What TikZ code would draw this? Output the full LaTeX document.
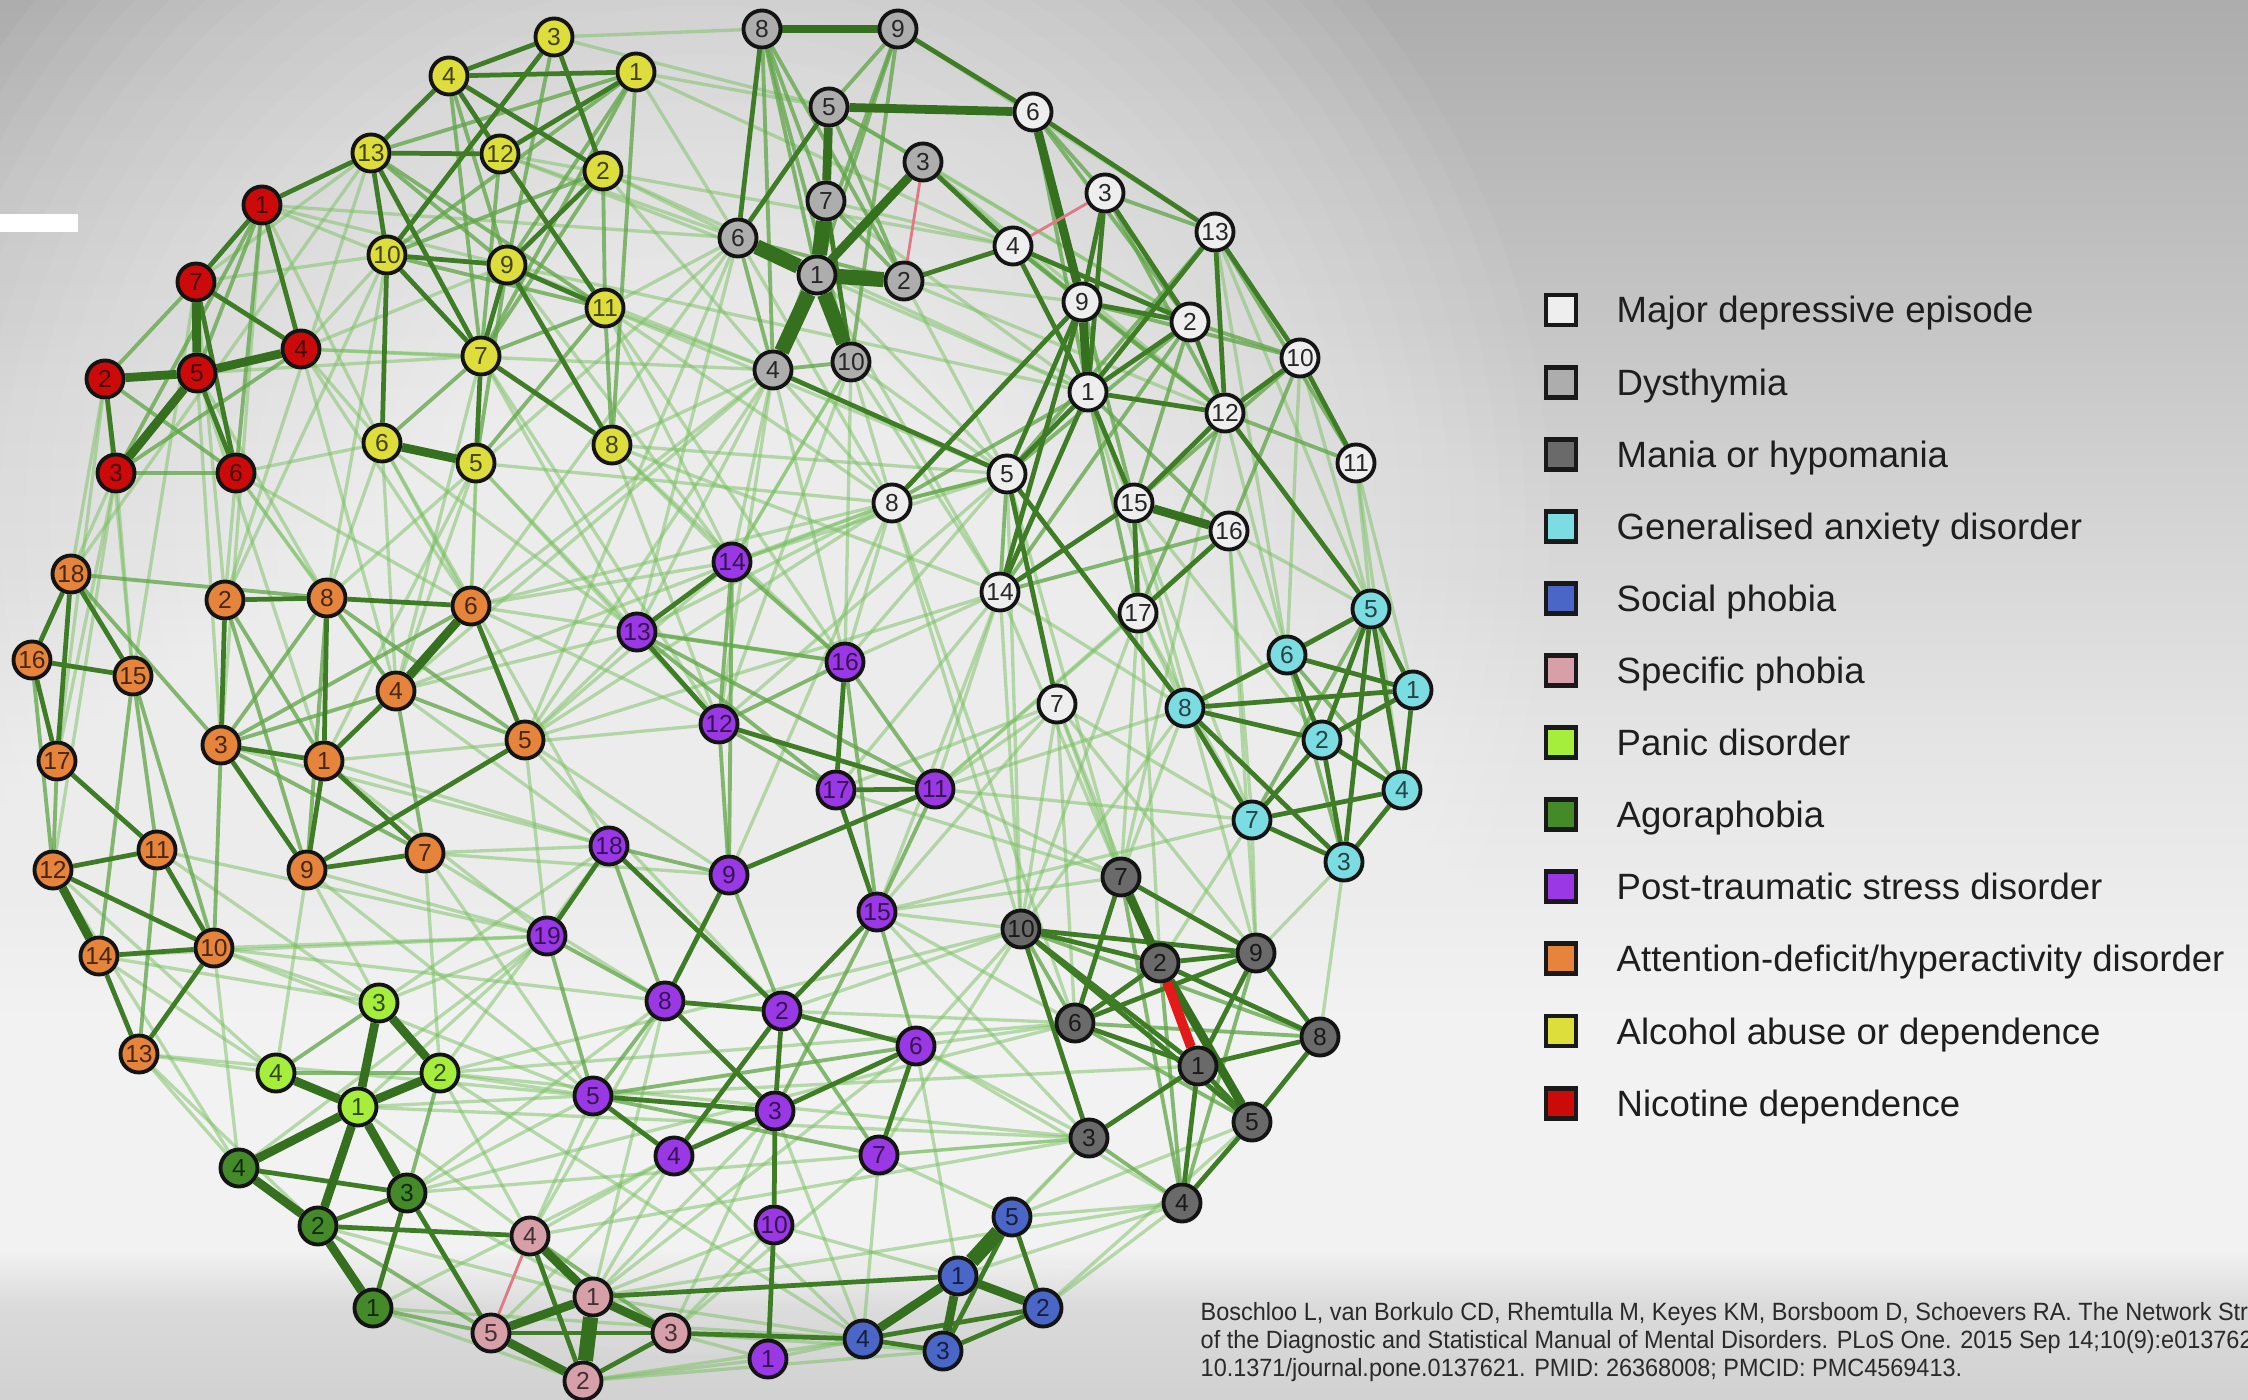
\documentclass[tikz,border=0pt]{standalone}
\usepackage{fontspec}
\setmainfont{Liberation Sans}
\newfontfamily\citefont[FakeStretch=0.94]{Liberation Sans}

% background tones
\definecolor{bg0}{HTML}{8F8F8F}
\definecolor{bg1}{HTML}{A6A6A6}
\definecolor{bg2}{HTML}{BFBFBF}
\definecolor{bg3}{HTML}{DADADA}
\definecolor{bg4}{HTML}{F2F2F2}
\definecolor{bg5}{HTML}{E4E4E4}
\definecolor{bg6}{HTML}{CFCFCF}
\definecolor{bg7}{HTML}{B9B9B9}
\definecolor{bg8}{HTML}{A3A3A3}
\definecolor{bg9}{HTML}{939393}
\definecolor{bg10}{HTML}{888888}

% disorder colours
\definecolor{cMDE}{HTML}{EEEEEE}
\definecolor{cDys}{HTML}{ADADAD}
\definecolor{cMan}{HTML}{6A6A6A}
\definecolor{cGAD}{HTML}{7BDCE1}
\definecolor{cSoc}{HTML}{4A66C6}
\definecolor{cSpe}{HTML}{D7A0A8}
\definecolor{cPan}{HTML}{A6EE3C}
\definecolor{cAgo}{HTML}{458A29}
\definecolor{cPTS}{HTML}{9B38E6}
\definecolor{cADH}{HTML}{E5843A}
\definecolor{cAlc}{HTML}{DDDD3C}
\definecolor{cNic}{HTML}{CC0A0A}

% edge colours
\definecolor{gFaint}{RGB}{120,192,95}
\definecolor{gLite}{RGB}{95,165,70}
\definecolor{gMed}{RGB}{62,125,38}
\definecolor{gStrong}{RGB}{52,112,30}
\definecolor{pNeg}{RGB}{225,120,130}
\definecolor{rNeg}{RGB}{228,25,25}
\definecolor{inkcol}{RGB}{30,30,30}
\definecolor{citecol}{RGB}{42,42,42}

\pgfdeclareverticalshading{bgshade}{100bp}{%
  color(0bp)=(bg0); color(1bp)=(bg0); color(8bp)=(bg1); color(18bp)=(bg2);
  color(28.3bp)=(bg3); color(30.4bp)=(bg4); color(38.6bp)=(bg4);
  color(48.8bp)=(bg5); color(59bp)=(bg6); color(69.3bp)=(bg7);
  color(79.5bp)=(bg8); color(89.8bp)=(bg9); color(100bp)=(bg10)}

\pgfdeclarelayer{bg}
\pgfdeclarelayer{edges}
\pgfsetlayers{bg,edges,main}

\tikzset{
  sym/.style={circle, draw=black!92, line width=1.1pt, minimum size=0.37cm,
    inner sep=0pt, font=\fontsize{7pt}{7.5pt}\selectfont},
  nMDE/.style={sym, fill=cMDE, text=black!85},
  nDys/.style={sym, fill=cDys, text=black!85},
  nMan/.style={sym, fill=cMan, text=black!90},
  nGAD/.style={sym, fill=cGAD, text=cGAD!30!black},
  nSoc/.style={sym, fill=cSoc, text=cSoc!30!black},
  nSpe/.style={sym, fill=cSpe, text=cSpe!30!black},
  nPan/.style={sym, fill=cPan, text=cPan!30!black},
  nAgo/.style={sym, fill=cAgo, text=cAgo!30!black},
  nPTS/.style={sym, fill=cPTS, text=cPTS!35!black},
  nADH/.style={sym, fill=cADH, text=cADH!30!black},
  nAlc/.style={sym, fill=cAlc, text=cAlc!30!black},
  nNic/.style={sym, fill=cNic, text=cNic!35!black},
  lnFaint/.style={draw=gFaint, line width=0.95pt, draw opacity=0.5},
  lnLite/.style={draw=gLite, line width=1.1pt, draw opacity=0.75},
  lnMed/.style={draw=gMed, line width=1.35pt},
  lnStrong/.style={draw=gStrong, line width=2.5pt},
  lnHeavy/.style={draw=gStrong, line width=4.3pt},
  lnNeg/.style={draw=pNeg, line width=0.8pt},
  lnNegBig/.style={draw=rNeg, line width=2.8pt},
  legbox/.style={draw=black!90, line width=1.4pt, minimum size=0.3cm, inner sep=0pt},
  legtext/.style={anchor=base west, inner sep=0pt, text=inkcol,
    font=\fontsize{10.4pt}{12pt}\selectfont},
  citetext/.style={anchor=base west, inner sep=0pt, text=citecol,
    font=\citefont\fontsize{7.1pt}{8pt}\selectfont}
}

\begin{document}
\begin{tikzpicture}[x=0.01cm, y=-0.01cm]
\useasboundingbox (0,0) rectangle (2248,1400);

\begin{pgfonlayer}{bg}
  \shade[shading=bgshade] (0,0) rectangle (2248,1400);
  % soft light haze behind the network, built from stacked translucent ellipses
  \foreach \r in {850,825,...,250}
    \fill[white, fill opacity=0.05] (700,520) ellipse [x radius=\r, y radius={0.98*\r}];
  \fill[white] (0,214) rectangle (78,232);
\end{pgfonlayer}

% ---------- symptom nodes ----------
% Nicotine dependence
\foreach \n/\x/\y in {1/262/205, 7/196/282, 4/301/349, 2/105/379, 5/197/373, 3/116/473, 6/236/473}
  \node[nNic] (r\n) at (\x,\y) {\n};
% Alcohol abuse or dependence
\foreach \n/\x/\y in {3/554/37, 4/449/76, 1/636/72, 13/371/153, 12/500/154, 2/603/171, 10/387/255,
  9/507/265, 11/605/308, 7/481/356, 6/382/443, 5/476/463, 8/612/445}
  \node[nAlc] (y\n) at (\x,\y) {\n};
% Dysthymia
\foreach \n/\x/\y in {8/762/29, 9/898/29, 5/829/107, 3/923/162, 7/826/201, 6/738/238, 1/817/275,
  2/904/281, 4/773/370, 10/851/362}
  \node[nDys] (d\n) at (\x,\y) {\n};
% Major depressive episode
\foreach \n/\x/\y in {6/1033/112, 3/1105/193, 4/1013/246, 13/1215/232, 9/1082/302, 2/1190/322,
  10/1300/358, 1/1088/392, 12/1225/413, 11/1356/463, 5/1007/474, 15/1134/503, 16/1229/531,
  14/1000/592, 17/1138/613, 7/1057/704, 8/892/503}
  \node[nMDE] (m\n) at (\x,\y) {\n};
% Generalised anxiety disorder
\foreach \n/\x/\y in {5/1371/609, 6/1287/655, 1/1413/690, 8/1185/708, 2/1322/740, 4/1402/790,
  7/1252/820, 3/1344/862}
  \node[nGAD] (g\n) at (\x,\y) {\n};
% Attention-deficit/hyperactivity disorder
\foreach \n/\x/\y in {18/71/574, 16/32/660, 15/133/676, 17/57/761, 2/225/600, 8/327/598, 6/471/606,
  4/396/691, 3/221/745, 1/324/761, 5/525/740, 11/157/850, 12/53/870, 9/307/870, 7/425/853,
  14/99/956, 10/214/948, 13/139/1054}
  \node[nADH] (o\n) at (\x,\y) {\n};
% Post-traumatic stress disorder
\foreach \n/\x/\y in {14/732/562, 13/637/632, 16/845/662, 12/719/724, 17/836/790, 11/935/789,
  18/609/846, 9/729/875, 15/877/912, 19/547/936, 8/665/1001, 2/782/1011, 6/916/1046, 5/593/1096,
  3/775/1111, 4/674/1156, 7/879/1155, 10/774/1225, 1/768/1359}
  \node[nPTS] (p\n) at (\x,\y) {\n};
% Mania or hypomania
\foreach \n/\x/\y in {7/1121/877, 10/1021/929, 2/1160/963, 9/1256/953, 6/1075/1023, 8/1320/1037,
  1/1198/1066, 5/1252/1122, 3/1089/1138, 4/1182/1203}
  \node[nMan] (k\n) at (\x,\y) {\n};
% Panic disorder
\foreach \n/\x/\y in {3/379/1003, 4/276/1073, 2/440/1073, 1/358/1107}
  \node[nPan] (pd\n) at (\x,\y) {\n};
% Agoraphobia
\foreach \n/\x/\y in {4/239/1168, 3/407/1193, 2/318/1226, 1/373/1308}
  \node[nAgo] (ag\n) at (\x,\y) {\n};
% Specific phobia
\foreach \n/\x/\y in {4/530/1236, 1/593/1297, 5/491/1333, 3/671/1333, 2/583/1381}
  \node[nSpe] (s\n) at (\x,\y) {\n};
% Social phobia
\foreach \n/\x/\y in {5/1012/1217, 1/958/1276, 2/1043/1308, 4/863/1339, 3/943/1351}
  \node[nSoc] (b\n) at (\x,\y) {\n};

% ---------- connections ----------
\begin{pgfonlayer}{edges}
% weak links across the network
\foreach \a/\b in {r1/y10, r4/y10, r4/y9, r7/y10, r5/y7, r4/y7, r6/y6, r1/y9,
  r2/o18, r3/o16, r3/o15, r5/o3, r6/o2, r6/o8, r2/o17, r3/o12, r4/o4, r1/o3, r7/o15, r5/o1,
  r5/o8, r4/o6, r6/o4, r2/o15, r7/o2, r1/y6, r4/y6, r7/y13, r6/o6, r3/o17,
  y6/o8, y5/o6, y6/o4, y10/o2, y13/o18, y5/o1, y7/o6,
  y10/o8, y6/o6, y7/o4, y5/o4, y13/o2,
  y1/d6, y11/m8, y8/m5, y2/d4, y9/m1, y3/d8, y1/d5, y11/d4, y12/d1, y8/d4, y2/d6, y5/m8,
  y12/m4, y2/m1, y11/m5, y8/m14, y1/m4, y3/d5, y9/d4, y12/d6,
  y8/p14, y5/p13, y8/p16, y7/p12, y6/p18, y11/p14, y9/p14, y11/p16, y8/p12, y5/p12, y6/p13, y7/p13,
  o5/p13, o5/p19, o6/p14, o7/p18, o1/p12, o9/p19, o10/p19, o13/p5, o10/p8, o7/p5, o5/p2,
  o4/p13, o1/p18, o7/p9, o14/p19,
  o5/p14, o6/p12, o4/p18, o1/p19, o7/p8, o9/p5, o10/p5, o11/p19, o6/p16, o5/p9, o3/p18,
  o10/pd3, o13/ag4, o14/pd4, o9/pd3, o7/pd2, o13/ag2, o10/ag4, o12/pd4,
  o14/pd3, o11/pd3, o13/pd4, o12/ag4, o9/pd4,
  p19/pd3, p5/pd2, p8/ag3, p4/s4, p4/s1, p5/ag3, p19/pd1, p10/s3, p1/s2, p3/s1, p6/s1, p18/pd3, p8/s4,
  p19/ag4, p18/pd2, p5/s4, p4/s5, p8/s1, p3/s3, p10/s1, p1/s3, p7/s3, p4/ag1,
  p16/m8, p11/m14, p11/m7, p15/m7, p14/d4, p13/d6, p12/d10, p16/m5, p17/m14, p14/m8, p12/m5, p13/d4,
  p16/m14, p14/m5, p13/m8, p11/m17, p15/m14, p9/m8, p17/m7, p16/d10, p12/d4, p14/d10, p11/m16,
  p15/k10, p6/k10, p11/g8, p15/k6, p6/k3, p7/k10, p15/k7, p2/k6, p11/k7,
  p15/k3, p6/k6, p7/k3, p2/k10, p15/g7, p11/g7, p17/k7, p6/k4,
  p7/b5, p6/b1, p1/b4, p10/b1, p3/b4, p7/b4, p4/b4,
  m7/k7, m7/k2, m14/k10, m5/k10, m17/k7, m8/k10, m16/k9, m12/k7, m15/k2, m7/k10,
  m7/k9, m7/k6, m14/k7, m17/k10, m8/k6, m5/k7, m15/k9,
  m16/g6, m17/g8, m10/g5, m11/g1, m7/g7, m15/g2, m1/g8, m13/g5, m11/g5, m16/g5,
  m16/g7, m17/g7, m14/g8, m12/g6, m10/g6, m11/g4, m13/g6, m1/g7,
  g7/k9, g3/k9, g8/k7, g7/k2, g3/k8, g8/k10,
  d1/m1, d2/m9, d10/m5, d4/m8, d7/m4, d5/m2, d2/m12, d1/m14, d6/m8, d3/m2, d10/m14, d3/m9,
  d10/m8, d2/m5, d7/m1, d1/m5, d3/m12, d9/m13,
  d4/o6, d6/o8, d6/o5, d4/o4, d4/p16, d10/p14, d6/o6, d4/o5, d6/y11,
  ag1/s2, ag2/s1, pd2/s4, ag3/s3, pd1/s4, pd2/b4, s1/b3, s2/b3, s3/b3, s2/b4, ag1/b4,
  k3/b5, k4/b2, k3/b1, pd2/k6, ag3/k6, pd1/k3, ag3/k3, pd1/k1, pd2/k10, s4/k3, s1/k4, pd2/k3,
  b5/k4, b2/k5, b5/k5, b1/k4,
  o4/m8, o5/m14, o6/m5, o5/m8, r1/d6, r4/d4}
  \draw[lnFaint] (\a) -- (\b);

% lighter links inside the groups
\foreach \a/\b in {r1/r6, r7/r2, r2/r6, r3/r6, r3/r4, r1/r3, r1/r5,
  y13/y9, y13/y11, y1/y13, y1/y9, y1/y7, y1/y8, y1/y10, y2/y11, y2/y7, y2/y10, y10/y11, y11/y8,
  y11/y5, y11/y7, y7/y6, y9/y5, y4/y9, y4/y7, y3/y9, y12/y7,
  d8/d4, d8/d7, d8/d1, d8/d10, d8/d2, d9/d5, d9/d1, d9/d10, d9/d4, d5/d3, d5/d2, d6/d4, d4/d10,
  d7/d2, d6/d2,
  m3/m12, m3/m13, m9/m12, m9/m10, m2/m5, m2/m10, m1/m16, m1/m17, m10/m16, m12/m11, m12/m17,
  m13/m5, m5/m14, m14/m16, m6/m1, m6/m2, m6/m3, m4/m9, m4/m12, m8/m1, m8/m5, m13/m11, m2/m15,
  m2/m14, m9/m15, m10/m15,
  g5/g7, g6/g4, g6/g3, g5/g8,
  o18/o8, o18/o3, o15/o14, o8/o3, o8/o4, o8/o5, o6/o3, o4/o7, o4/o3, o4/o5, o3/o7, o11/o13,
  o10/o3, o15/o11, o17/o12, o16/o12, o15/o10, o2/o1, o2/o9, o8/o9,
  p14/p12, p14/p9, p13/p16, p12/p17, p12/p9, p16/p11, p16/p15, p11/p15, p19/p5, p19/p8, p5/p6,
  p5/p7, p14/p16, p13/p17, p18/p8, p18/p9, p9/p2, p8/p5, p15/p6, p15/p3, p2/p7, p12/p16, p13/p11,
  k10/k6, k2/k4, k9/k4, k6/k5, k3/k4, k7/k1, k7/k4, k6/k8, k10/k8,
  pd3/pd4, pd4/pd2, pd2/ag3, ag1/s5, ag2/s5, s4/s3}
  \draw[lnLite] (\a) -- (\b);

% medium links
\foreach \a/\b in {r1/r4, r1/r7, r7/r4, r7/r6, r2/r3, r5/r6, r1/y13,
  y4/y3, y4/y1, y4/y13, y4/y12, y4/y2, y3/y2, y3/y10, y1/y12, y13/y12, y13/y10, y13/y7, y12/y11,
  y2/y9, y10/y9, y10/y7, y10/y6, y9/y11, y9/y7, y9/y8, y7/y5, y7/y8,
  d8/d6, d5/d6, d7/d10, d3/m4, d2/m4, d9/m6, d4/m5, m4/m1, m6/m13, m4/m2,
  m3/m9, m3/m1, m3/m2, m13/m12, m13/m1, m13/m10, m9/m2, m9/m5, m9/m14, m2/m1, m2/m12, m1/m12,
  m1/m5, m1/m15, m1/m14, m10/m12, m10/m11, m12/m15, m15/m17, m15/m14, m16/m17, m5/m7, m5/g8,
  m8/m9, m12/g5,
  g5/g6, g5/g1, g5/g2, g5/g4, g5/g3, g6/g8, g6/g1, g6/g2, g8/g1, g8/g2, g8/g7, g8/g3, g2/g1,
  g2/g4, g2/g7, g2/g3, g7/g4, g7/g3, g3/g4, g1/g4,
  o18/o16, o18/o17, o18/o15, o16/o15, o16/o17, o17/o11, o2/o8, o2/o3, o8/o6, o8/o1, o6/o5,
  o4/o1, o3/o1, o3/o9, o1/o9, o1/o7, o5/o9, o9/o7, o12/o11, o12/o10, o11/o10, o14/o10,
  o14/o13, o10/o13,
  p14/p13, p13/p12, p12/p11, p16/p17, p17/p15, p11/p9, p18/p19, p18/p2, p9/p8, p15/p2, p8/p2,
  p8/p3, p2/p6, p2/p3, p2/p4, p5/p3, p5/p4, p3/p6, p3/p4, p3/p10, p6/p7, p10/p1, p17/p11,
  k7/k9, k7/k6, k10/k2, k10/k9, k10/k1, k10/k3, k10/k5, k2/k9, k2/k6, k2/k8, k9/k6, k9/k8,
  k9/k1, k6/k1, k1/k8, k1/k3, k1/k4, k1/k5, k8/k5, k5/k4,
  ag4/ag3, ag2/ag3, ag2/s4, ag3/ag1, ag3/s5, s4/s2, s5/s3, s2/s3,
  b5/b2, b5/b3, b4/b3, b4/b2, b3/b2, b1/s1, b4/s3}
  \draw[lnMed] (\a) -- (\b);

% strong links
\foreach \a/\b in {r7/r5, r2/r5, r5/r4, r5/r3, y6/y5, d8/d9, d5/d7, d1/d3, d5/m6, m6/m9,
  m9/m1, m15/m16, o6/o4, o12/o14, pd3/pd1, pd3/pd2, pd4/pd1, pd2/pd1, pd1/ag4, pd1/ag2,
  pd1/ag3, ag4/ag2, ag2/ag1, s4/s1, s1/s5, s1/s3, s5/s2, b1/b2, b1/b4, b1/b3, k7/k2, k2/k5}
  \draw[lnStrong] (\a) -- (\b);

% heaviest links
\foreach \a/\b in {d1/d6, d1/d4, d1/d2, d1/d7, d1/d10, b5/b1, s1/s2}
  \draw[lnHeavy] (\a) -- (\b);

% negative links
\foreach \a/\b in {d3/d2, m4/m3, s4/s5}
  \draw[lnNeg] (\a) -- (\b);
\draw[lnNegBig] (k2) -- (k1);
\end{pgfonlayer}

% ---------- key ----------
\foreach \lab/\col [count=\i from 0] in {Major depressive episode/cMDE, Dysthymia/cDys,
  Mania or hypomania/cMan, Generalised anxiety disorder/cGAD, Social phobia/cSoc,
  Specific phobia/cSpe, Panic disorder/cPan, Agoraphobia/cAgo,
  Post-traumatic stress disorder/cPTS, {Attention-deficit/hyperactivity disorder}/cADH,
  Alcohol abuse or dependence/cAlc, Nicotine dependence/cNic} {
  \pgfmathsetmacro\yy{310+72.1*\i}
  \node[legbox, fill=\col] (key\i) at (1561,\yy) {};
  \node[legtext] (keylab\i) at (1616,{\yy+13}) {\lab};
}

% ---------- reference ----------
\node[citetext] (cite1) at (1200,1320) {Boschloo L, van Borkulo CD, Rhemtulla M, Keyes KM, Borsboom D, Schoevers RA. The Network Structure of Symptoms};
\node[citetext] (cite2) at (1200,1348) {of the Diagnostic and Statistical Manual of Mental Disorders. PLoS One. 2015 Sep 14;10(9):e0137621. doi:};
\node[citetext] (cite3) at (1200,1376) {10.1371/journal.pone.0137621. PMID: 26368008; PMCID: PMC4569413.};
\end{tikzpicture}
\end{document}
